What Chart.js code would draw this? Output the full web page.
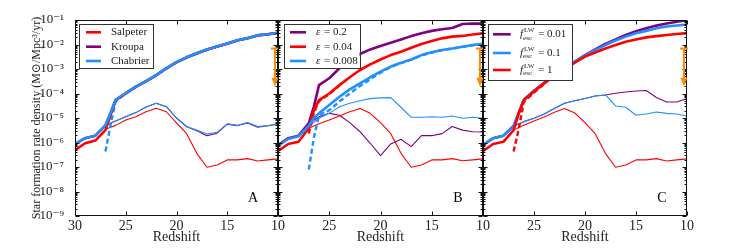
<!DOCTYPE html>
<html><head><meta charset="utf-8">
<script src="https://cdn.jsdelivr.net/npm/chart.js@4/dist/chart.umd.min.js"></script>
<style>
html,body{margin:0;padding:0;background:#fff;}
#wrap{position:relative;width:747px;height:249px;overflow:hidden;}
canvas{position:absolute;left:0;top:0;}
</style></head><body>
<div id="wrap">
<canvas id="cA" width="747" height="249"></canvas>
<canvas id="cB" width="747" height="249"></canvas>
<canvas id="cC" width="747" height="249"></canvas>
</div>
<script>
// ---------- data ----------
const zThick = [30,29,28,27,26.5,26,25,24,23,22,21,20,19,18,17,16,15,14,13,12,11,10];
const zThin  = [27,26,25,24,23,22,21,20,19,18,17,16,15,14,13,12,11,10];
const zDashShort = [27,26.5,26,25,24];
const zDashLong  = [27,26.5,26,25,24,23,22,21,20,19,18,17,16,15,14,13,12,11,10];

const xTickValues = [30,25,20,15,10];
const xTickLabels = ['30','25','20','15','10'];
const xTickValuesInner = [25,20,15,10];
const yTickValues = [1e-9,1e-8,1e-7,1e-6,1e-5,1e-4,1e-3,1e-2,1e-1];
const yTickLabels = ['10⁻⁹','10⁻⁸','10⁻⁷','10⁻⁶','10⁻⁵','10⁻⁴','10⁻³','10⁻²','10⁻¹'];
const yTitle = 'Star formation rate density (M⊙/Mpc³/yr)';
const xTitle = 'Redshift';

// Panel A : IMF
const legendA = ['Salpeter','Kroupa','Chabrier'];
const sfrA_salpeter_total = [4.9e-7,9.3e-7,1.2e-6,3.2e-6,1.3e-5,5.2e-5,1.0e-4,1.85e-4,3.1e-4,5.5e-4,1.05e-3,1.85e-3,2.95e-3,4.3e-3,6.1e-3,8.2e-3,1.08e-2,1.45e-2,1.8e-2,2.35e-2,2.6e-2,2.95e-2];
const sfrA_kroupa_total   = [8.7e-7,1.5e-6,1.9e-6,5.0e-6,1.55e-5,5.4e-5,1.05e-4,1.9e-4,3.2e-4,5.6e-4,1.07e-3,1.9e-3,3.0e-3,4.4e-3,6.2e-3,8.3e-3,1.1e-2,1.48e-2,1.82e-2,2.4e-2,2.63e-2,3.0e-2];
const sfrA_chabrier_total = [8.7e-7,1.5e-6,1.9e-6,5.0e-6,1.55e-5,5.4e-5,1.05e-4,1.9e-4,3.2e-4,5.6e-4,1.07e-3,1.9e-3,3.0e-3,4.4e-3,6.2e-3,8.3e-3,1.1e-2,1.48e-2,1.82e-2,2.4e-2,2.63e-2,3.0e-2];
const sfrA_salpeter_pop3 = [3.5e-6,5.0e-6,8.3e-6,1.12e-5,1.8e-5,2.5e-5,1.8e-5,6.3e-6,2.3e-6,3.6e-7,9.8e-8,1.2e-7,1.95e-7,1.95e-7,2.2e-7,1.75e-7,1.95e-7,2.15e-7];
const sfrA_kroupa_pop3   = [5.0e-6,7.6e-6,1.12e-5,1.66e-5,2.8e-5,4.0e-5,2.9e-5,1.0e-5,4.4e-6,3.0e-6,1.9e-6,2.4e-6,5.6e-6,4.9e-6,6.3e-6,4.2e-6,4.8e-6,5.6e-6];
const sfrA_chabrier_pop3 = [5.0e-6,7.6e-6,1.12e-5,1.66e-5,2.8e-5,4.0e-5,2.9e-5,1.0e-5,4.5e-6,3.2e-6,2.2e-6,2.6e-6,5.8e-6,5.0e-6,6.5e-6,4.5e-6,4.9e-6,5.8e-6];
const sfrA_chabrier_pop2 = [4.3e-7,5.0e-6,4.8e-5,1.0e-4,1.85e-4];

// Panel B : efficiency
const legendB = ['0.2','0.04','0.008'];
const sfrB_e02_total   = [7.9e-7,1.5e-6,1.9e-6,6.0e-6,2.9e-5,2.2e-4,4.2e-4,1.07e-3,2.3e-3,4.1e-3,6.3e-3,8.7e-3,1.17e-2,1.6e-2,2.2e-2,2.9e-2,3.6e-2,4.2e-2,4.7e-2,6.9e-2,7.2e-2,7.1e-2];
const sfrB_e004_total  = [4.5e-7,8.7e-7,1.07e-6,3.8e-6,2.1e-5,5.4e-5,1.0e-4,2.2e-4,4.6e-4,9.1e-4,1.55e-3,2.45e-3,3.7e-3,5.1e-3,7.4e-3,1.05e-2,1.38e-2,1.78e-2,2.1e-2,2.24e-2,2.57e-2,2.9e-2];
const sfrB_e0008_total = [7.4e-7,1.4e-6,1.8e-6,4.7e-6,1.0e-5,1.55e-5,3.4e-5,7.4e-5,1.48e-4,2.6e-4,4.6e-4,7.8e-4,1.26e-3,1.8e-3,2.45e-3,3.7e-3,4.8e-3,6.0e-3,6.9e-3,8.1e-3,9.5e-3,1.07e-2];
const sfrB_e0008_pop2  = [7.9e-8,1.6e-6,1.3e-5,2.1e-5,4.7e-5,1.0e-4,2.0e-4,3.8e-4,7.1e-4,1.2e-3,1.75e-3,2.4e-3,3.6e-3,4.7e-3,5.9e-3,6.8e-3,8.0e-3,9.3e-3,1.05e-2];
const sfrB_e004_pop2   = [2.3e-6,1.6e-5,4.9e-5,9.5e-5,2.1e-4];
const sfrB_e02_pop3   = [6.0e-6,1.12e-5,1.55e-5,1.3e-5,6.5e-6,2.75e-6,9.3e-7,2.9e-7,8.7e-7,1.35e-6,6.8e-7,1.9e-6,1.9e-6,2.3e-6,4.5e-6,3.2e-6,2.75e-6,2.7e-6];
const sfrB_e004_pop3  = [3.8e-6,5.8e-6,8.3e-6,1.2e-5,1.8e-5,2.45e-5,1.55e-5,6.5e-6,2.3e-6,3.6e-7,9.8e-8,1.2e-7,1.95e-7,1.95e-7,2.2e-7,1.8e-7,1.95e-7,2.15e-7];
const sfrB_e0008_pop3 = [4.7e-6,9.8e-6,1.55e-5,2.9e-5,4.0e-5,5.1e-5,6.2e-5,6.6e-5,6.8e-5,2.75e-5,1.07e-5,1.07e-5,1.12e-5,1.07e-5,1.2e-5,9.8e-6,1.07e-5,9.8e-6];

// Panel C : LW escape fraction
const legendC = ['0.01','0.1','1'];
const sfrC_f001_total = [7.9e-7,1.5e-6,1.9e-6,4.7e-6,1.55e-5,5.4e-5,1.3e-4,2.75e-4,5.8e-4,1.07e-3,2.0e-3,3.7e-3,6.3e-3,1.05e-2,1.6e-2,2.45e-2,3.5e-2,4.6e-2,5.9e-2,7.2e-2,8.5e-2,9.8e-2];
const sfrC_f01_total  = [7.9e-7,1.5e-6,1.9e-6,4.7e-6,1.55e-5,5.4e-5,1.3e-4,2.75e-4,5.8e-4,1.07e-3,2.0e-3,3.5e-3,5.9e-3,9.5e-3,1.45e-2,2.1e-2,2.9e-2,3.6e-2,4.6e-2,5.4e-2,6.0e-2,6.6e-2];
const sfrC_f1_total   = [4.5e-7,8.7e-7,1.07e-6,3.2e-6,1.55e-5,5.4e-5,1.2e-4,2.6e-4,5.2e-4,9.8e-4,1.8e-3,3.2e-3,4.7e-3,6.9e-3,9.5e-3,1.3e-2,1.6e-2,1.95e-2,2.2e-2,2.45e-2,2.7e-2,2.9e-2];
const sfrC_f1_pop2    = [4.3e-7,3.5e-6,4.5e-5,1.1e-4,2.45e-4];
const sfrC_f001_pop3 = [4.7e-6,7.1e-6,9.8e-6,1.45e-5,2.45e-5,4.0e-5,5.1e-5,6.3e-5,7.9e-5,8.7e-5,1.02e-4,1.15e-4,1.26e-4,1.32e-4,6.9e-5,4.5e-5,4.5e-5,6.3e-5];
const sfrC_f01_pop3  = [4.7e-6,7.1e-6,9.8e-6,1.45e-5,2.45e-5,4.0e-5,5.1e-5,6.3e-5,7.9e-5,8.7e-5,3.1e-5,2.75e-5,1.3e-5,1.45e-5,1.75e-5,1.55e-5,1.45e-5,1.2e-5];
const sfrC_f1_pop3   = [3.2e-6,5.1e-6,7.6e-6,1.1e-5,1.7e-5,2.45e-5,1.6e-5,6.5e-6,2.3e-6,3.6e-7,9.8e-8,1.2e-7,1.95e-7,1.95e-7,2.2e-7,1.75e-7,1.95e-7,2.15e-7];

// observational upper limit (arrow)
const limitZ = [10.3];
const limitValue = [6.9e-3];
const limitArrowTo = [1.9e-4];

// ---------- styling ----------
const SERIF = '"Liberation Serif","DejaVu Serif",serif';
const RED = '#ff0000', PURPLE = '#800080', BLUE = '#1e90ff', ORANGE = '#ff8c00';
const TXT = '#222';

function pts(z, v){ return z.map((x,i)=>({x:x, y:v[i]})); }
function line(z, v, color, kind){
  return {
    data: pts(z, v), borderColor: color,
    borderWidth: kind==='thick' ? 2.6 : (kind==='dash' ? 2.4 : 1.1),
    borderDash: kind==='dash' ? [5,3] : [],
    pointRadius: 0, pointHoverRadius: 0, fill: false, tension: 0,
    borderJoinStyle: 'round', borderCapStyle: 'butt'
  };
}

function drawLegendText(ctx, kind, text, x, y){
  ctx.fillStyle = TXT; ctx.textBaseline = 'middle'; ctx.textAlign = 'left';
  if (kind === 'plain'){
    ctx.font = '11px ' + SERIF; ctx.fillText(text, x, y);
  } else if (kind === 'eps'){
    ctx.font = 'italic 11px ' + SERIF; ctx.fillText('ε', x, y);
    const w = ctx.measureText('ε').width;
    ctx.font = '11px ' + SERIF; ctx.fillText(' = ' + text, x + w + 1, y);
  } else {
    ctx.font = 'italic 11px ' + SERIF; ctx.fillText('f', x, y);
    const w = ctx.measureText('f').width;
    ctx.font = '7px ' + SERIF;
    ctx.fillText('LW', x + w + 1, y - 4);
    ctx.fillText('esc', x + w, y + 3.5);
    const w2 = Math.max(ctx.measureText('LW').width + 1, ctx.measureText('esc').width);
    ctx.font = '11px ' + SERIF; ctx.fillText(' = ' + text, x + w + w2 + 1, y);
  }
}

const decorPlugin = {
  id: 'panelDecor',
  afterDatasetsDraw(chart, args, o){
    const ctx = chart.ctx;
    const {left, right, top, bottom} = chart.chartArea;
    const xs = chart.scales.x, ys = chart.scales.y;
    ctx.save();
    ctx.strokeStyle = '#111'; ctx.lineWidth = 1;
    const L = Math.round(left)+0.5, R = Math.round(right)-0.5, T = Math.round(top)+0.5, B = Math.round(bottom)-0.5;
    ctx.strokeRect(L, T, R-L, B-T);
    ctx.beginPath();
    yTickValues.forEach((v, i) => {
      const py = Math.round(ys.getPixelForValue(v)) + 0.5;
      ctx.moveTo(L, py); ctx.lineTo(L+4, py);
      ctx.moveTo(R, py); ctx.lineTo(R-4, py);
      if (i < yTickValues.length-1){
        for (let k=2; k<10; k++){
          const pm = Math.round(ys.getPixelForValue(v*k)) + 0.5;
          ctx.moveTo(L, pm); ctx.lineTo(L+2, pm);
          ctx.moveTo(R, pm); ctx.lineTo(R-2, pm);
        }
      }
    });
    xTickValues.forEach(v => {
      const px = Math.round(xs.getPixelForValue(v)) + 0.5;
      ctx.moveTo(px, B); ctx.lineTo(px, B-4);
      ctx.moveTo(px, T); ctx.lineTo(px, T+4);
    });
    ctx.stroke();

    // upper limit arrow
    ctx.strokeStyle = ORANGE; ctx.fillStyle = ORANGE; ctx.lineWidth = 2;
    const ax = xs.getPixelForValue(limitZ[0]);
    const ay0 = ys.getPixelForValue(limitValue[0]);
    const ay1 = ys.getPixelForValue(limitArrowTo[0]);
    ctx.beginPath();
    ctx.moveTo(ax-4, ay0); ctx.lineTo(ax+4, ay0);
    ctx.moveTo(ax, ay0); ctx.lineTo(ax, ay1-8);
    ctx.stroke();
    ctx.beginPath();
    ctx.moveTo(ax-3.5, ay1-9); ctx.lineTo(ax+3.5, ay1-9); ctx.lineTo(ax, ay1); ctx.closePath();
    ctx.fill();

    // legend box
    const lg = o.legend;
    const bx = left + lg.box[0], by = top + lg.box[1];
    ctx.fillStyle = '#fff'; ctx.fillRect(bx, by, lg.box[2], lg.box[3]);
    ctx.strokeStyle = '#333'; ctx.lineWidth = 1;
    ctx.strokeRect(Math.round(bx)+0.5, Math.round(by)+0.5, lg.box[2], lg.box[3]);
    lg.labels.forEach((t, i) => {
      const ry = by + lg.rows[i];
      ctx.strokeStyle = lg.colors[i]; ctx.lineWidth = 2.6;
      ctx.beginPath(); ctx.moveTo(bx + lg.sx[0], ry); ctx.lineTo(bx + lg.sx[1], ry); ctx.stroke();
      drawLegendText(ctx, lg.kind, t, bx + lg.tx, ry);
    });

    ctx.fillStyle = '#000'; ctx.font = '14px ' + SERIF;
    ctx.textAlign = 'center'; ctx.textBaseline = 'middle';
    ctx.fillText(o.letter, right - 25, bottom - 18);
    ctx.restore();
  }
};

function makePanel(id, cfg){
  const ds = cfg.layers.map((d, i) => Object.assign(d, {order: -i}));
  return new Chart(document.getElementById(id), {
    type: 'line',
    data: {datasets: ds},
    options: {
      responsive: false, animation: false, devicePixelRatio: 1,
      layout: {padding: cfg.padding},
      events: [],
      plugins: {legend: {display: false}, tooltip: {enabled: false},
        panelDecor: {legend: cfg.legend, letter: cfg.letter}},
      scales: {
        x: {type: 'linear', reverse: true, min: 10, max: 30,
          afterBuildTicks: s => { s.ticks = cfg.xTicks.map(v => ({value: v})); },
          afterFit: s => { s.height = 33; },
          grid: {display: false}, border: {display: false},
          ticks: {autoSkip: false, maxRotation: 0, padding: -6, color: TXT,
            font: {family: SERIF, size: 14},
            callback: v => xTickLabels[xTickValues.indexOf(v)]},
          title: {display: true, text: xTitle, color: TXT, font: {family: SERIF, size: 14},
            padding: {top: 0, bottom: 3}}},
        y: {type: 'logarithmic', min: 1e-9, max: 1e-1, display: cfg.showY,
          afterBuildTicks: s => { s.ticks = yTickValues.map(v => ({value: v})); },
          afterFit: s => { s.width = cfg.showY ? 50 : 0; },
          grid: {display: false}, border: {display: false},
          ticks: {padding: 3, color: TXT, font: {family: SERIF, size: 13},
            callback: (v, i) => yTickLabels[i]},
          title: {display: true, text: yTitle, color: TXT, font: {family: SERIF, size: 12},
            padding: {top: 5, bottom: 0}}}
      }
    },
    plugins: [decorPlugin]
  });
}

makePanel('cA', {
  showY: true, letter: 'A', xTicks: xTickValues,
  padding: {left: 25, right: 469, top: 20, bottom: 0},
  legend: {box: [4,4,74,44], rows: [8.3,22.7,37], sx: [7,22], tx: 32, kind: 'plain',
    labels: legendA, colors: [RED, PURPLE, BLUE]},
  layers: [
    line(zThin, sfrA_salpeter_pop3, RED, 'thin'),
    line(zThin, sfrA_kroupa_pop3, PURPLE, 'thin'),
    line(zThin, sfrA_chabrier_pop3, BLUE, 'thin'),
    line(zDashShort, sfrA_chabrier_pop2, BLUE, 'dash'),
    line(zThick, sfrA_salpeter_total, RED, 'thick'),
    line(zThick, sfrA_kroupa_total, PURPLE, 'thick'),
    line(zThick, sfrA_chabrier_total, BLUE, 'thick')
  ]
});

makePanel('cB', {
  showY: false, letter: 'B', xTicks: xTickValuesInner,
  padding: {left: 278, right: 264, top: 20, bottom: 0},
  legend: {box: [5.5,4,76,44], rows: [8.3,22.7,37], sx: [6.5,22.5], tx: 32.5, kind: 'eps',
    labels: legendB, colors: [PURPLE, RED, BLUE]},
  layers: [
    line(zThin, sfrB_e02_pop3, PURPLE, 'thin'),
    line(zThin, sfrB_e004_pop3, RED, 'thin'),
    line(zThin, sfrB_e0008_pop3, BLUE, 'thin'),
    line(zDashLong, sfrB_e0008_pop2, BLUE, 'dash'),
    line(zDashShort, sfrB_e004_pop2, RED, 'dash'),
    line(zThick, sfrB_e02_total, PURPLE, 'thick'),
    line(zThick, sfrB_e004_total, RED, 'thick'),
    line(zThick, sfrB_e0008_total, BLUE, 'thick')
  ]
});

makePanel('cC', {
  showY: false, letter: 'C', xTicks: xTickValuesInner,
  padding: {left: 483, right: 60, top: 20, bottom: 0},
  legend: {box: [5,4,84,56], rows: [10.3,29,46], sx: [5,22.7], tx: 32, kind: 'fesc',
    labels: legendC, colors: [PURPLE, BLUE, RED]},
  layers: [
    line(zThin, sfrC_f001_pop3, PURPLE, 'thin'),
    line(zThin, sfrC_f01_pop3, BLUE, 'thin'),
    line(zThin, sfrC_f1_pop3, RED, 'thin'),
    line(zDashShort, sfrC_f1_pop2, RED, 'dash'),
    line(zThick, sfrC_f001_total, PURPLE, 'thick'),
    line(zThick, sfrC_f01_total, BLUE, 'thick'),
    line(zThick, sfrC_f1_total, RED, 'thick')
  ]
});
</script>
</body></html>
